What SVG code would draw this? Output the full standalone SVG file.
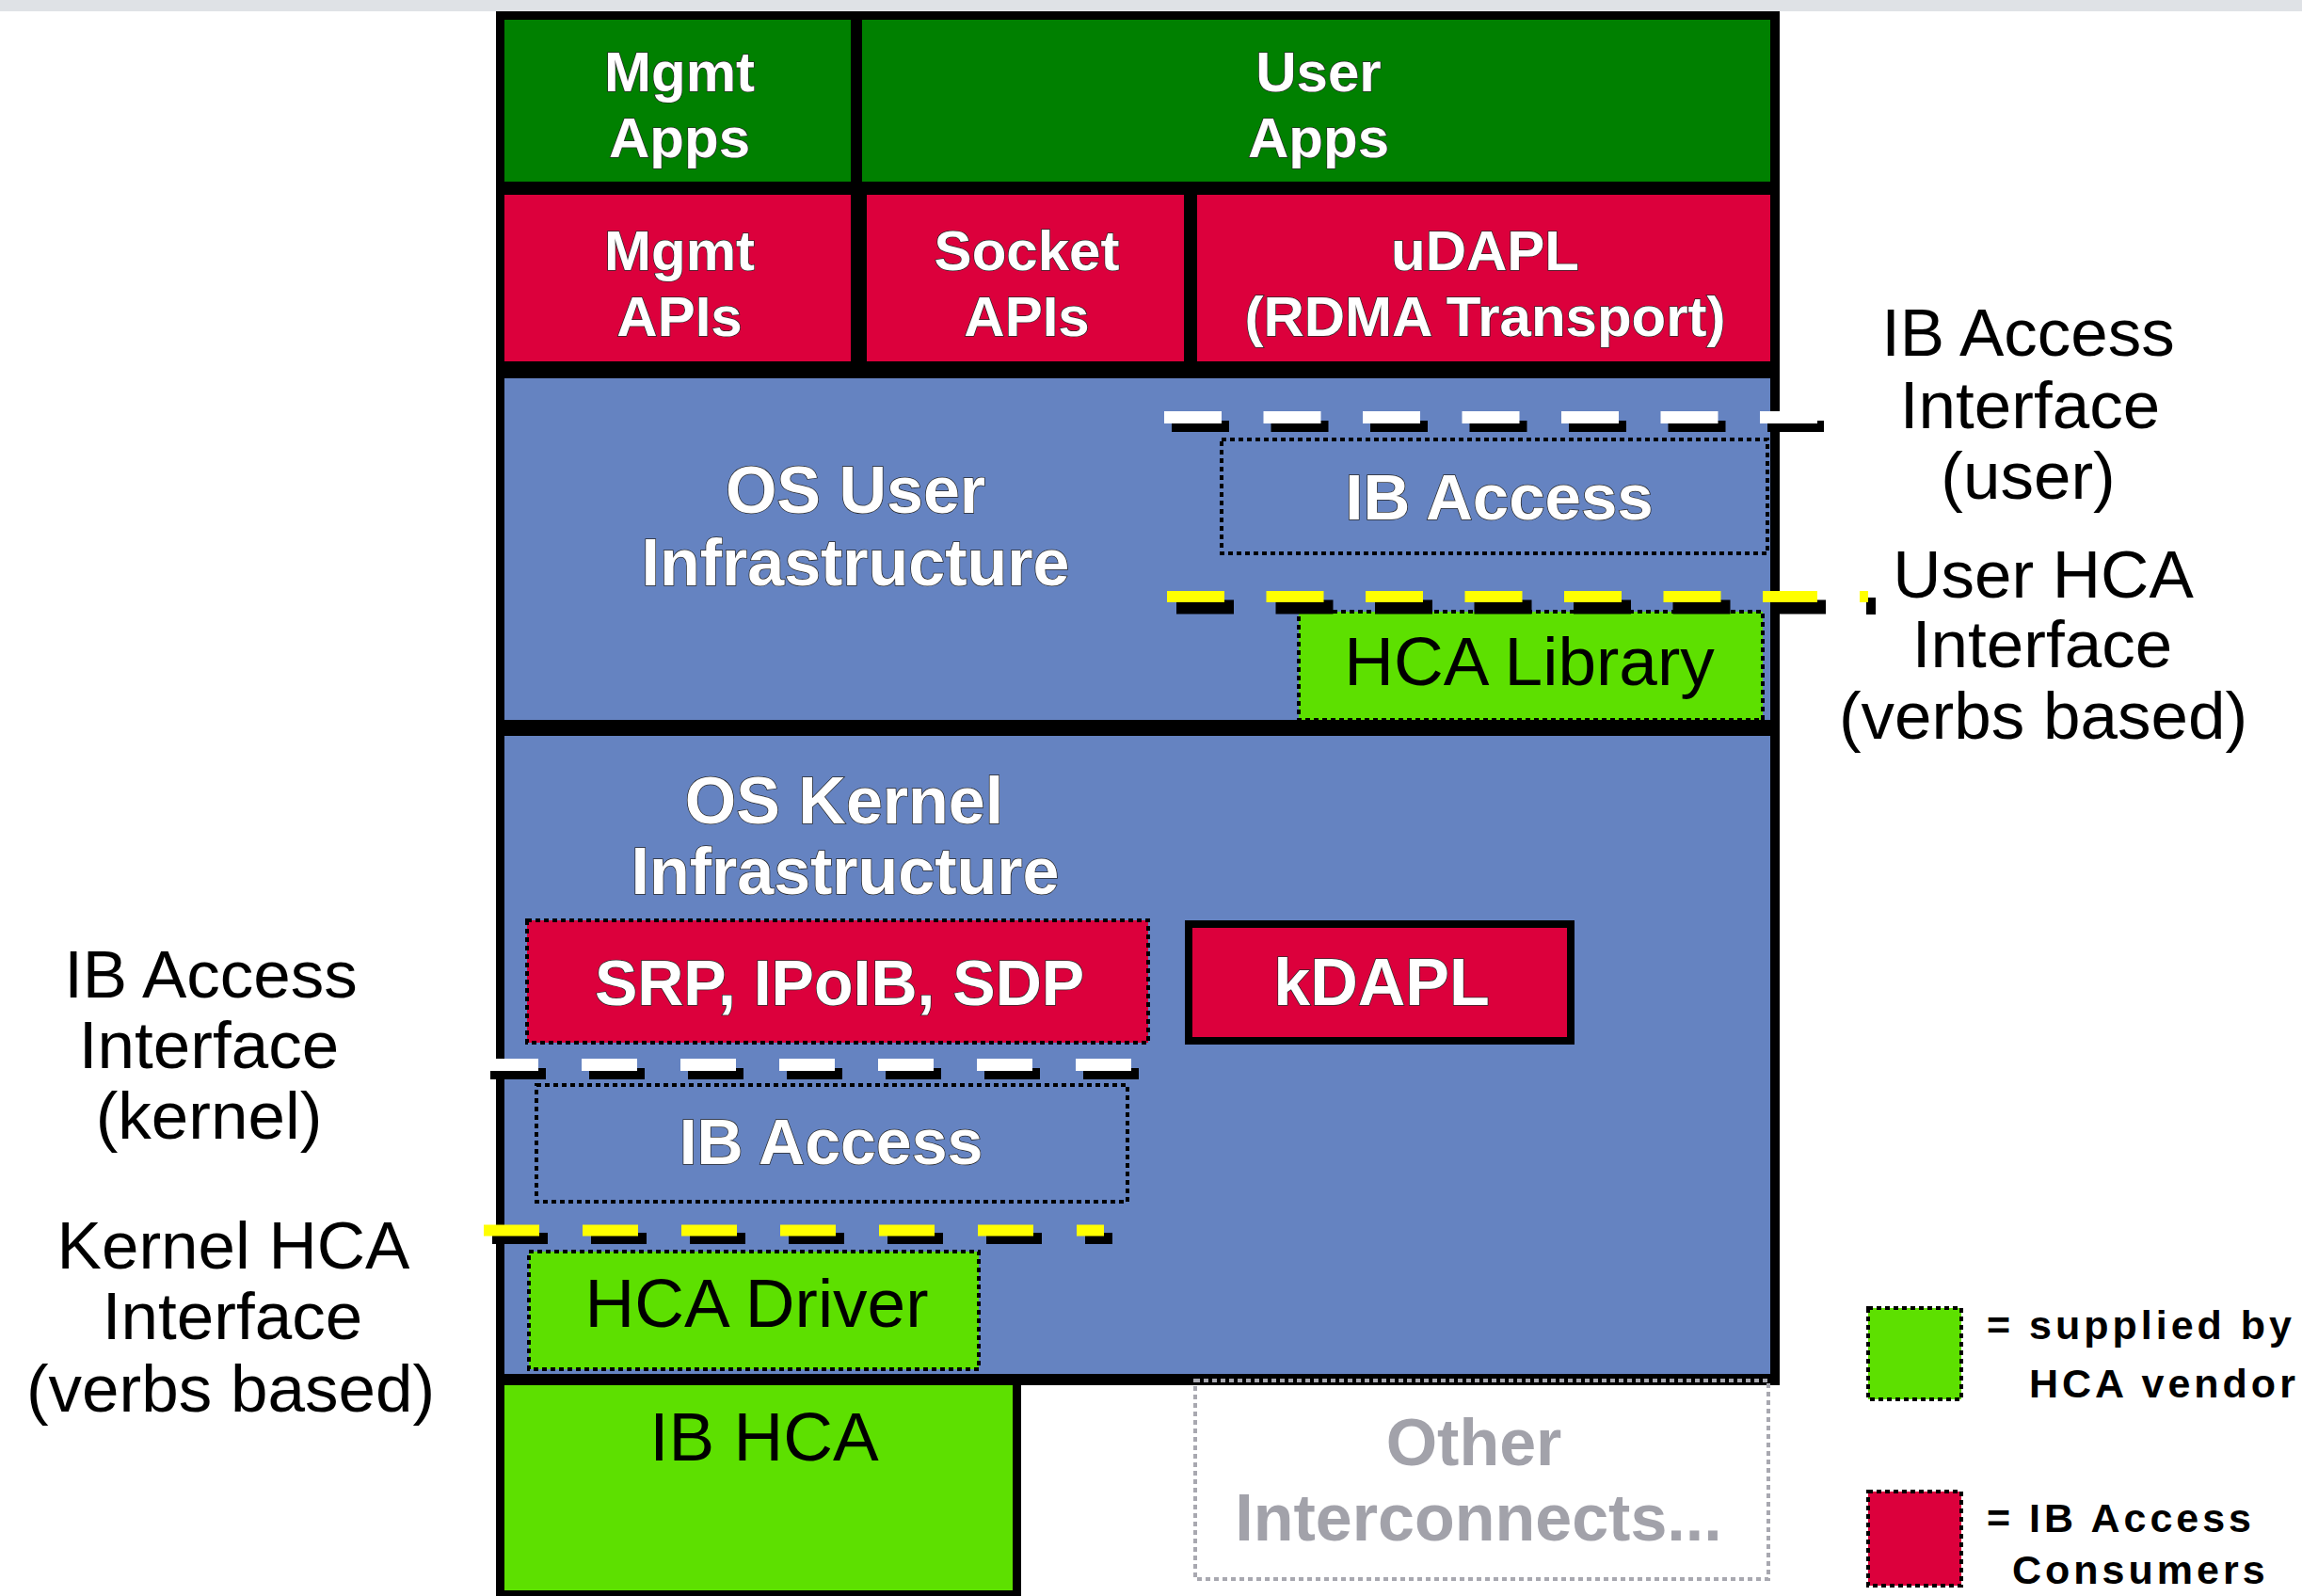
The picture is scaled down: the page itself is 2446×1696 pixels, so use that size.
<svg xmlns="http://www.w3.org/2000/svg" width="2446" height="1696" viewBox="0 0 2446 1696">
  <style>
    .w { fill: #ffffff; font-family: "Liberation Sans", Arial, sans-serif; font-weight: bold; text-anchor: middle; stroke: #2a2a2a; stroke-width: 1.5; paint-order: stroke; }
    .w60 { font-size: 60px; }
    .w70 { font-size: 70px; }
    .k { fill: #000000; font-family: "Liberation Sans", Arial, sans-serif; font-size: 71px; text-anchor: middle; }
    .kin { fill: #000000; font-family: "Liberation Sans", Arial, sans-serif; font-size: 73px; text-anchor: middle; }
    .g { fill: #a2a2aa; font-family: "Liberation Sans", Arial, sans-serif; font-weight: bold; font-size: 70px; text-anchor: middle; }
    .leg { fill: #000000; font-family: "Liberation Sans", Arial, sans-serif; font-weight: bold; font-size: 43px; letter-spacing: 4px; }
    .dg { fill: #008000; }
    .red { fill: #dc003c; }
    .blue { fill: #6583c1; }
    .lg { fill: #5de000; }
    .dot { stroke: #000000; stroke-width: 4; stroke-dasharray: 5 4; }
    .gdot { fill: none; stroke: #a8a8b0; stroke-width: 4; stroke-dasharray: 5 4; }
  </style>

  <!-- top gray bar -->
  <rect x="0" y="0" width="2446" height="12" fill="#dfe2e6"/>

  <!-- black frame background -->
  <rect id="frame" x="527" y="12" width="1364" height="1460" fill="#000000"/>

  <g id="mgmt-apps">
    <rect class="dg" x="536" y="21" width="368" height="172"/>
    <text class="w w60" x="722" y="97">Mgmt</text>
    <text class="w w60" x="722" y="167">Apps</text>
  </g>
  <g id="user-apps">
    <rect class="dg" x="916" y="21" width="965" height="172"/>
    <text class="w w60" x="1401" y="97">User</text>
    <text class="w w60" x="1401" y="167">Apps</text>
  </g>

  <g id="mgmt-apis">
    <rect class="red" x="536" y="207" width="368" height="177"/>
    <text class="w w60" x="722" y="287">Mgmt</text>
    <text class="w w60" x="722" y="357">APIs</text>
  </g>
  <g id="socket-apis">
    <rect class="red" x="921" y="207" width="337" height="177"/>
    <text class="w w60" x="1091" y="287">Socket</text>
    <text class="w w60" x="1091" y="357">APIs</text>
  </g>
  <g id="udapl">
    <rect class="red" x="1272" y="207" width="609" height="177"/>
    <text class="w w60" x="1578" y="287">uDAPL</text>
    <text class="w w60" x="1578" y="357">(RDMA Transport)</text>
  </g>

  <g id="os-user">
    <rect class="blue" x="536" y="402" width="1345" height="363"/>
    <text class="w w70" x="909" y="545">OS User</text>
    <text class="w w70" x="909" y="622">Infrastructure</text>
  </g>
  <g id="ib-access-user">
    <rect x="1298" y="467" width="580" height="121" fill="none" class="dot"/>
    <text class="w w70" x="1593" y="552" style="font-size:69px">IB Access</text>
  </g>
  <g id="hca-library">
    <rect class="lg dot" x="1380" y="650" width="493" height="115"/>
    <text class="kin" x="1625" y="728">HCA Library</text>
  </g>

  <g id="os-kernel">
    <rect class="blue" x="536" y="782" width="1345" height="678"/>
    <text class="w w70" x="897" y="875">OS Kernel</text>
    <text class="w w70" x="898" y="950">Infrastructure</text>
  </g>
  <g id="srp-ipoib-sdp">
    <rect class="red dot" x="560" y="978" width="660" height="130"/>
    <text class="w" x="892" y="1068" style="font-size:68px">SRP, IPoIB, SDP</text>
  </g>
  <g id="kdapl">
    <rect class="red" x="1263" y="982" width="406" height="124" stroke="#000000" stroke-width="8"/>
    <text class="w w70" x="1468" y="1068">kDAPL</text>
  </g>
  <g id="ib-access-kernel">
    <rect x="570" y="1153" width="628" height="124" fill="none" class="dot"/>
    <text class="w" x="883" y="1237" style="font-size:68px">IB Access</text>
  </g>
  <g id="hca-driver">
    <rect class="lg dot" x="562" y="1330" width="478" height="125"/>
    <text class="kin" x="804" y="1410">HCA Driver</text>
  </g>

  <g id="ib-hca">
    <rect x="527" y="1460" width="558" height="236" fill="#000000"/>
    <rect class="lg" x="536" y="1472" width="540" height="218"/>
    <text class="kin" x="812" y="1552">IB HCA</text>
  </g>
  <g id="other-interconnects">
    <rect class="gdot" x="1270" y="1467" width="609" height="211"/>
    <text class="g" x="1566" y="1557">Other</text>
    <text class="g" x="1571" y="1637">Interconnects...</text>
  </g>

  <!-- interface lines -->
  <g id="interfaces">
    <!-- IB Access Interface (user) -->
    <line x1="1245" y1="453" x2="1938" y2="453" stroke="#000000" stroke-width="12" stroke-dasharray="61 44.5"/>
    <line x1="1237" y1="443.5" x2="1931" y2="443.5" stroke="#ffffff" stroke-width="13" stroke-dasharray="61 44.5"/>
    <!-- User HCA Interface -->
    <line x1="1250" y1="645" x2="1940" y2="645" stroke="#000000" stroke-width="15" stroke-dasharray="61 44.5"/>
    <line x1="1240" y1="634" x2="1931" y2="634" stroke="#ffff00" stroke-width="12" stroke-dasharray="61 44.5"/>
    <rect x="1983" y="635" width="10" height="18" fill="#000000"/>
    <rect x="1976" y="628" width="9" height="12" fill="#ffff00"/>
    <!-- IB Access Interface (kernel) -->
    <line x1="521" y1="1141" x2="1211" y2="1141" stroke="#000000" stroke-width="12" stroke-dasharray="59 46"/>
    <line x1="513" y1="1131.5" x2="1202" y2="1131.5" stroke="#ffffff" stroke-width="13" stroke-dasharray="59 46"/>
    <!-- Kernel HCA Interface -->
    <line x1="523" y1="1316" x2="1182" y2="1316" stroke="#000000" stroke-width="12" stroke-dasharray="59 46"/>
    <line x1="514" y1="1307.5" x2="1173" y2="1307.5" stroke="#ffff00" stroke-width="12" stroke-dasharray="59 46"/>
  </g>

  <!-- side labels -->
  <g id="label-ib-access-user">
    <text class="k" x="2155" y="378">IB Access</text>
    <text class="k" x="2157" y="455">Interface</text>
    <text class="k" x="2155" y="530">(user)</text>
  </g>
  <g id="label-user-hca">
    <text class="k" x="2171" y="635">User HCA</text>
    <text class="k" x="2170" y="709">Interface</text>
    <text class="k" x="2171" y="785">(verbs based)</text>
  </g>
  <g id="label-ib-access-kernel">
    <text class="k" x="224" y="1060">IB Access</text>
    <text class="k" x="222" y="1135">Interface</text>
    <text class="k" x="222" y="1210">(kernel)</text>
  </g>
  <g id="label-kernel-hca">
    <text class="k" x="248" y="1348">Kernel HCA</text>
    <text class="k" x="247" y="1423">Interface</text>
    <text class="k" x="245" y="1500">(verbs based)</text>
  </g>

  <!-- legend -->
  <g id="legend-vendor">
    <rect class="lg dot" x="1985" y="1390" width="99" height="97"/>
    <text class="leg" x="2111" y="1423">= supplied by</text>
    <text class="leg" x="2156" y="1485">HCA vendor</text>
  </g>
  <g id="legend-consumers">
    <rect class="red dot" x="1985" y="1585" width="99" height="100"/>
    <text class="leg" x="2111" y="1628">= IB Access</text>
    <text class="leg" x="2138" y="1683">Consumers</text>
  </g>
</svg>
